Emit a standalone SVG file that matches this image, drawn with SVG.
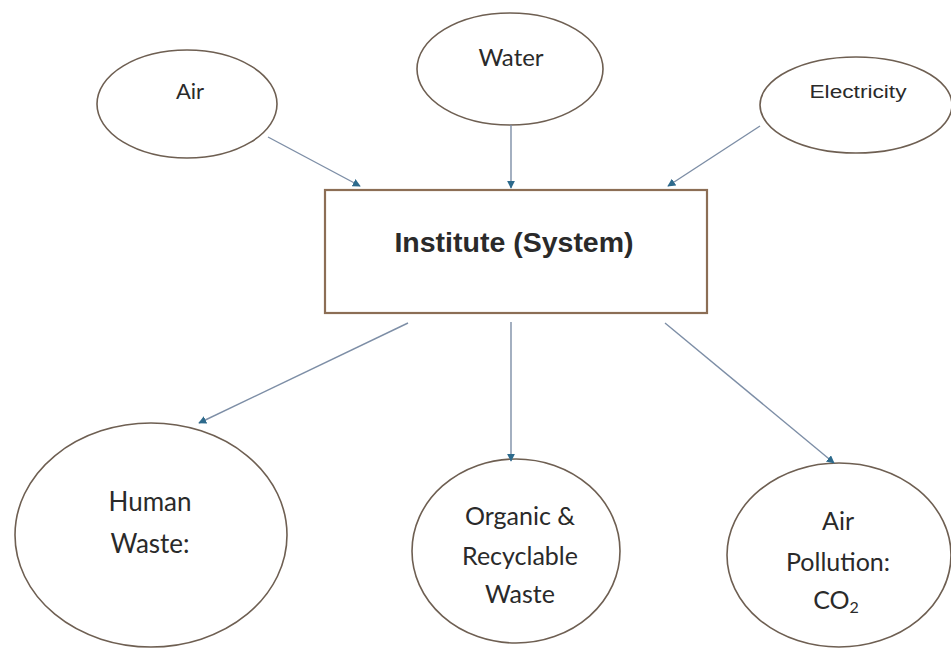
<svg xmlns="http://www.w3.org/2000/svg" width="951" height="650" viewBox="0 0 951 650">
<style>
.node ellipse{fill:#ffffff;stroke:#6e5f52;stroke-width:1.6}
.box{fill:#ffffff;stroke:#8c6e55;stroke-width:2.2}
.lbl{font-family:Lato,"Open Sans","Liberation Sans",sans-serif;fill:#2a2a2a;text-anchor:middle}
.arial{font-family:"Liberation Sans",Arial,sans-serif;fill:#2a2a2a;text-anchor:middle}
.conn line{stroke:#7d8ea6;stroke-width:1.4;fill:none}
</style>
<defs>
<marker id="ah" viewBox="0 0 10 10" refX="9" refY="5" markerWidth="8" markerHeight="8" markerUnits="userSpaceOnUse" orient="auto">
<path d="M0,0 L10,5 L0,10 z" fill="#2d6a8c"/>
</marker>
</defs>
<rect width="951" height="650" fill="#ffffff"/>
<g id="n-air" class="node">
<ellipse cx="187" cy="104" rx="90" ry="54"/>
<text class="lbl" x="190" y="99" font-size="22">Air</text>
</g>
<g id="n-water" class="node">
<ellipse cx="510" cy="69" rx="93" ry="56"/>
<text class="lbl" x="511" y="66" font-size="24">Water</text>
</g>
<g id="n-electricity" class="node">
<ellipse cx="856" cy="105" rx="96" ry="48"/>
<text class="arial" x="858" y="98" font-size="18" textLength="97" lengthAdjust="spacingAndGlyphs">Electricity</text>
</g>
<g id="n-institute">
<rect class="box" x="325" y="190" width="382" height="123"/>
<text class="arial" x="514" y="252" font-size="28.5" font-weight="bold">Institute (System)</text>
</g>
<g id="n-human" class="node">
<ellipse cx="151" cy="535" rx="136" ry="112"/>
<text class="lbl" x="150" y="511" font-size="26">Human</text>
<text class="lbl" x="150" y="553" font-size="26">Waste:</text>
</g>
<g id="n-organic" class="node">
<ellipse cx="516" cy="551" rx="104" ry="92"/>
<text class="lbl" x="520" y="525" font-size="25">Organic &amp;</text>
<text class="lbl" x="520" y="565" font-size="25">Recyclable</text>
<text class="lbl" x="520" y="603" font-size="25">Waste</text>
</g>
<g id="n-airpollution" class="node">
<ellipse cx="839" cy="555" rx="112" ry="92"/>
<text class="lbl" x="838" y="530" font-size="25">Air</text>
<text class="lbl" x="838" y="571" font-size="25">Pollution:</text>
<text class="lbl" x="836" y="609" font-size="25">CO<tspan font-size="16" dy="4">2</tspan></text>
</g>
<g id="connectors" class="conn">
<line x1="268" y1="137" x2="360" y2="186" marker-end="url(#ah)"/>
<line x1="511" y1="125" x2="511" y2="188" marker-end="url(#ah)"/>
<line x1="760" y1="126" x2="668" y2="186" marker-end="url(#ah)"/>
<line x1="408" y1="323" x2="199" y2="423" marker-end="url(#ah)"/>
<line x1="511" y1="322" x2="511" y2="461" marker-end="url(#ah)"/>
<line x1="665" y1="323" x2="834" y2="463" marker-end="url(#ah)"/>
</g>
</svg>
